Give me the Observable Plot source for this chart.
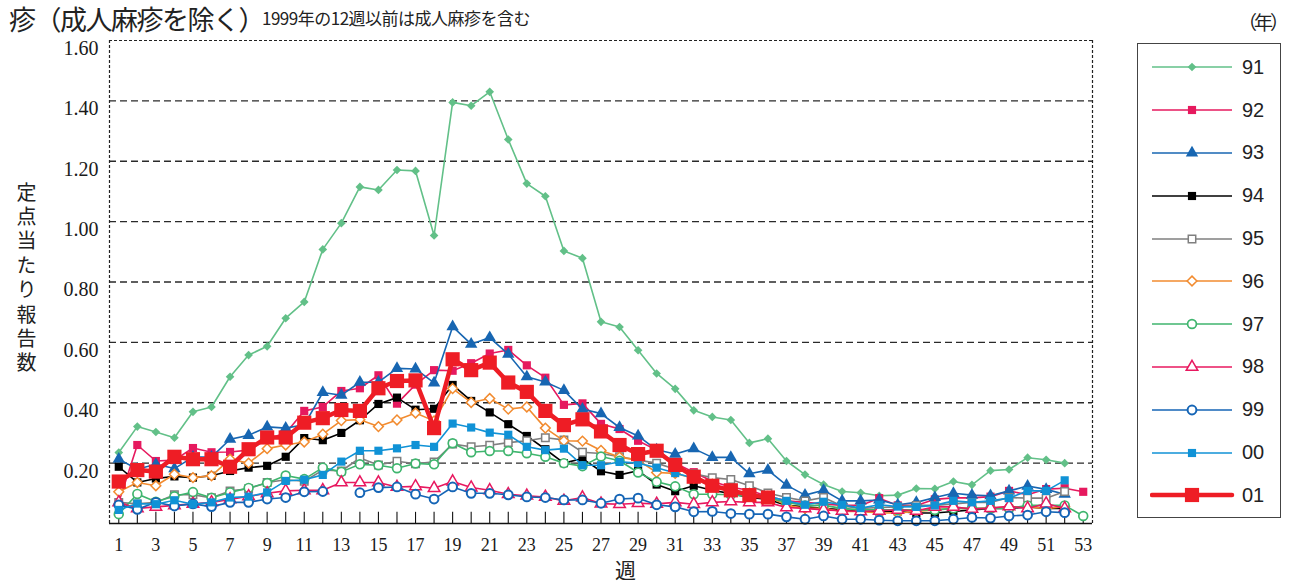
<!DOCTYPE html>
<html><head><meta charset="utf-8">
<script src="https://cdn.jsdelivr.net/npm/d3@7"></script>
<script src="https://cdn.jsdelivr.net/npm/@observablehq/plot@0.6"></script>
<style>
body{margin:0;background:#fff;}
#wrap{position:relative;width:1292px;height:584px;overflow:hidden;font-family:"Noto Sans CJK JP",sans-serif;color:#222;}
#chart{position:absolute;left:0;top:0;}
.title{position:absolute;left:9px;top:3px;font-size:27px;white-space:nowrap;line-height:32px;letter-spacing:-1.5px;}
.sub{position:absolute;left:262px;top:3px;font-size:17px;white-space:nowrap;line-height:30px;letter-spacing:-0.5px;}
.nen{position:absolute;left:1238px;top:8px;font-size:19px;line-height:28px;white-space:nowrap;letter-spacing:-3px;}
.ytitle{position:absolute;left:13px;top:182px;font-size:20px;writing-mode:vertical-rl;text-orientation:upright;letter-spacing:4.4px;line-height:26px;}
.xtitle{position:absolute;left:615px;top:557px;font-size:21px;line-height:24px;}
#legend{position:absolute;left:1137px;top:43px;width:144px;height:475px;border:1px solid #444;box-sizing:border-box;padding-top:2px;}
.lrow{display:flex;align-items:center;height:42.8px;}
.lrow span{font-family:"Liberation Sans",Arial,sans-serif;font-size:20px;color:#222;}
</style></head>
<body>
<div id="wrap">
  <div id="chart"></div>
  <div class="title">疹（成人麻疹を除く）</div>
  <div class="sub">1999年の12週以前は成人麻疹を含む</div>
  <div class="nen">（年）</div>
  <div class="ytitle">定点当たり報告数</div>
  <div class="xtitle">週</div>
  <div id="legend"></div>
</div>
<script>
const weeks = [1,2,3,4,5,6,7,8,9,10,11,12,13,14,15,16,17,18,19,20,21,22,23,24,25,26,27,28,29,30,31,32,33,34,35,36,37,38,39,40,41,42,43,44,45,46,47,48,49,50,51,52,53];
const weekLabels = [1,3,5,7,9,11,13,15,17,19,21,23,25,27,29,31,33,35,37,39,41,43,45,47,49,51,53];
const yTicks = [0.2,0.4,0.6,0.8,1.0,1.2,1.4,1.6];
const seriesNames = ["91","92","93","94","95","96","97","98","99","00","01"];

const s91 = [0.235,0.321,0.303,0.284,0.370,0.386,0.486,0.558,0.587,0.680,0.734,0.908,0.995,1.115,1.105,1.171,1.168,0.954,1.395,1.384,1.430,1.272,1.126,1.084,0.903,0.879,0.668,0.651,0.574,0.497,0.446,0.375,0.353,0.343,0.267,0.281,0.207,0.162,0.129,0.106,0.102,0.092,0.094,0.116,0.115,0.139,0.128,0.175,0.179,0.218,0.211,0.200,null];
const s92 = [0.07,0.26,0.207,0.21,0.25,0.236,0.237,0.243,0.28,0.30,0.373,0.386,0.439,0.448,0.491,0.397,0.46,0.508,0.506,0.531,0.563,0.575,0.524,0.483,0.393,0.398,0.33,0.313,0.274,0.243,0.20,0.17,0.14,0.12,0.11,0.09,0.075,0.07,0.065,0.06,0.06,0.084,0.06,0.06,0.08,0.085,0.085,0.089,0.108,0.095,0.114,0.117,0.105];
const s93 = [0.213,0.18,0.196,0.182,0.22,0.22,0.279,0.292,0.320,0.316,0.327,0.434,0.425,0.468,0.468,0.514,0.512,0.466,0.652,0.594,0.616,0.561,0.486,0.469,0.441,0.379,0.364,0.318,0.290,0.244,0.230,0.248,0.219,0.219,0.165,0.177,0.127,0.094,0.110,0.075,0.075,0.078,0.062,0.070,0.086,0.100,0.094,0.092,0.108,0.124,0.113,0.097,null];
const s94 = [0.188,0.136,0.149,0.156,0.152,0.158,0.174,0.185,0.191,0.221,0.283,0.276,0.300,0.342,0.396,0.417,0.377,0.380,0.459,0.406,0.368,0.329,0.290,0.246,0.200,0.215,0.173,0.161,0.175,0.129,0.107,0.125,0.11,0.099,0.086,0.08,0.06,0.055,0.05,0.045,0.04,0.04,0.04,0.035,0.035,0.04,0.045,0.05,0.05,0.055,0.05,0.05,null];
const s95 = [0.07,0.065,0.07,0.095,0.095,0.085,0.108,0.115,0.136,0.145,0.14,0.177,0.174,0.217,0.194,0.206,0.198,0.204,0.263,0.254,0.259,0.268,0.274,0.284,0.277,0.236,0.232,0.221,0.21,0.2,0.18,0.165,0.152,0.146,0.125,0.101,0.086,0.075,0.086,0.058,0.05,0.053,0.055,0.06,0.06,0.065,0.07,0.07,0.086,0.084,0.084,0.106,null];
const s96 = [0.105,0.136,0.125,0.163,0.152,0.158,0.213,0.200,0.248,0.260,0.270,0.296,0.341,0.344,0.321,0.343,0.366,0.340,0.447,0.401,0.414,0.379,0.386,0.316,0.274,0.273,0.242,0.220,0.21,0.169,0.166,0.15,0.13,0.11,0.1,0.09,0.06,0.05,0.05,0.04,0.04,0.035,0.035,0.04,0.045,0.05,0.05,0.051,0.055,0.055,0.05,0.056,null];
const s97 = [0.031,0.098,0.072,0.09,0.104,0.085,0.103,0.118,0.134,0.159,0.147,0.185,0.171,0.196,0.193,0.183,0.199,0.196,0.266,0.236,0.240,0.240,0.233,0.221,0.20,0.19,0.222,0.208,0.169,0.138,0.123,0.097,0.097,0.095,0.09,0.085,0.07,0.06,0.06,0.05,0.045,0.045,0.045,0.045,0.045,0.05,0.05,0.05,0.05,0.06,0.06,0.06,0.025];
const s98 = [0.07,0.05,0.055,0.06,0.065,0.07,0.08,0.09,0.1,0.108,0.11,0.11,0.136,0.136,0.136,0.121,0.123,0.117,0.139,0.119,0.110,0.097,0.092,0.088,0.075,0.086,0.066,0.064,0.067,0.065,0.070,0.064,0.070,0.073,0.070,0.07,0.053,0.05,0.045,0.042,0.04,0.042,0.045,0.042,0.055,0.055,0.048,0.051,0.057,0.05,0.066,0.05,null];
const s99 = [0.062,0.047,0.070,0.058,0.065,0.056,0.070,0.070,0.081,0.086,0.105,0.106,null,0.102,0.119,0.121,0.097,0.081,0.121,0.100,0.100,0.095,0.088,0.086,0.078,0.078,0.067,0.081,0.084,0.062,0.055,0.039,0.040,0.033,0.031,0.031,0.022,0.014,0.025,0.014,0.014,0.011,0.009,0.009,0.009,0.014,0.020,0.018,0.025,0.028,0.039,0.036,null];
const s00 = [0.045,0.066,0.064,0.077,0.064,0.070,0.086,0.089,0.103,0.141,0.145,0.161,0.205,0.241,0.241,0.249,0.260,0.254,0.331,0.318,0.301,0.294,0.254,0.243,0.248,0.193,0.193,0.204,0.200,0.185,0.167,0.15,0.13,0.11,0.099,0.09,0.075,0.062,0.072,0.062,0.051,0.062,0.056,0.055,0.06,0.075,0.07,0.075,0.084,0.108,0.108,0.143,null];
const s01 = [0.139,0.177,0.172,0.221,0.213,0.213,0.188,0.246,0.285,0.285,0.334,0.349,0.376,0.373,0.448,0.472,0.474,0.316,0.544,0.508,0.533,0.467,0.436,0.373,0.326,0.345,0.305,0.260,0.230,0.241,0.194,0.155,0.125,0.110,0.094,0.086,null,null,null,null,null,null,null,null,null,null,null,null,null,null,null,null,null];

const seriesValues = [s91,s92,s93,s94,s95,s96,s97,s98,s99,s00,s01];

const styles = {
  "91": {color:"#62c088", symbol:"diamond2", fill:"#62c088", r:3.9, sw:1.6, msw:0},
  "92": {color:"#e6195e", symbol:"square", fill:"#e6195e", r:4.6, sw:1.6, msw:0},
  "93": {color:"#1766b2", symbol:"triangle", fill:"#1766b2", r:4.6, sw:1.6, msw:0},
  "94": {color:"#000000", symbol:"square", fill:"#000000", r:4.6, sw:1.6, msw:0},
  "95": {color:"#7f7f7f", symbol:"square", fill:"#ffffff", r:4.2, sw:1.6, msw:1.5},
  "96": {color:"#f28b2f", symbol:"diamond2", fill:"#ffffff", r:4.4, sw:1.6, msw:1.5},
  "97": {color:"#3fb56e", symbol:"circle", fill:"#ffffff", r:4.4, sw:1.6, msw:1.7},
  "98": {color:"#e8185f", symbol:"triangle", fill:"#ffffff", r:4.3, sw:1.6, msw:1.5},
  "99": {color:"#1565b6", symbol:"circle", fill:"#ffffff", r:4.4, sw:1.6, msw:2.0},
  "00": {color:"#1092d6", symbol:"square", fill:"#1092d6", r:4.6, sw:1.6, msw:0},
  "01": {color:"#ee1d25", symbol:"square", fill:"#ee1d25", r:8.0, sw:4.5, msw:0}
};
const d3Symbols = {diamond2: d3.symbolDiamond2, square: d3.symbolSquare, triangle: d3.symbolTriangle, circle: d3.symbolCircle};

const X0 = 0.5, X1 = 53.5;
const marks = [];
marks.push(Plot.ruleY(yTicks.filter(v => v < 1.6), {stroke:"#2a2a2a", strokeWidth:1.4, strokeDasharray:"7,4"}));
marks.push(Plot.ruleY([1.6], {stroke:"#222", strokeWidth:1.2, strokeDasharray:"3,2"}));
marks.push(Plot.ruleX([X0, X1], {stroke:"#222", strokeWidth:1.2, strokeDasharray:"3,2"}));
marks.push(Plot.ruleX(weeks, {y1:0, y2:0.037, stroke:"#111", strokeWidth:1.1}));

seriesNames.forEach((name, i) => {
  const st = styles[name];
  const rows = weeks.map((w, j) => ({week: w, value: seriesValues[i][j]}));
  marks.push(Plot.line(rows, {x:"week", y:"value", stroke:st.color, strokeWidth:st.sw, defined: d => d.value != null}));
  marks.push(Plot.dot(rows.filter(d => d.value != null), {x:"week", y:"value", symbol:st.symbol, r:st.r, fill:st.fill, stroke: st.msw ? st.color : "none", strokeWidth:st.msw}));
});
marks.push(Plot.ruleY([0], {stroke:"#111", strokeWidth:1.6}));
marks.push(Plot.axisY(yTicks, {tickSize:0, tickPadding:11, dy:8, tickFormat:d3.format(".2f"), fontSize:20, fontFamily:"Liberation Serif", fill:"#1a1a1a", label:null}));
marks.push(Plot.axisX(weekLabels, {tickSize:0, tickPadding:15, fontSize:18, fontFamily:"Liberation Serif", fill:"#1a1a1a", label:null}));

const chart = Plot.plot({
  width:1292, height:584,
  marginLeft:109, marginRight:200, marginTop:40, marginBottom:61,
  x:{domain:[X0, X1], type:"linear"},
  y:{domain:[0, 1.6]},
  style:{background:"transparent", overflow:"visible"},
  marks
});
document.getElementById("chart").appendChild(chart);

const legend = document.getElementById("legend");
const svgNS = "http://www.w3.org/2000/svg";
seriesNames.forEach(name => {
  const st = styles[name];
  const row = document.createElement("div");
  row.className = "lrow";
  const svg = document.createElementNS(svgNS, "svg");
  svg.setAttribute("width", "92"); svg.setAttribute("height", "24");
  svg.style.marginLeft = "12px";
  const ln = document.createElementNS(svgNS, "line");
  ln.setAttribute("x1", 2); ln.setAttribute("x2", 82); ln.setAttribute("y1", 12); ln.setAttribute("y2", 12);
  ln.setAttribute("stroke", st.color); ln.setAttribute("stroke-width", st.sw);
  if (name === "01") ln.setAttribute("stroke-linecap", "round");
  svg.appendChild(ln);
  const p = document.createElementNS(svgNS, "path");
  p.setAttribute("d", d3.symbol(d3Symbols[st.symbol], Math.PI * st.r * st.r)());
  p.setAttribute("transform", "translate(42,12)");
  p.setAttribute("fill", st.fill);
  p.setAttribute("stroke", st.msw ? st.color : "none");
  p.setAttribute("stroke-width", st.msw);
  svg.appendChild(p);
  row.appendChild(svg);
  const sp = document.createElement("span");
  sp.textContent = name;
  row.appendChild(sp);
  legend.appendChild(row);
});
</script>
</body></html>
